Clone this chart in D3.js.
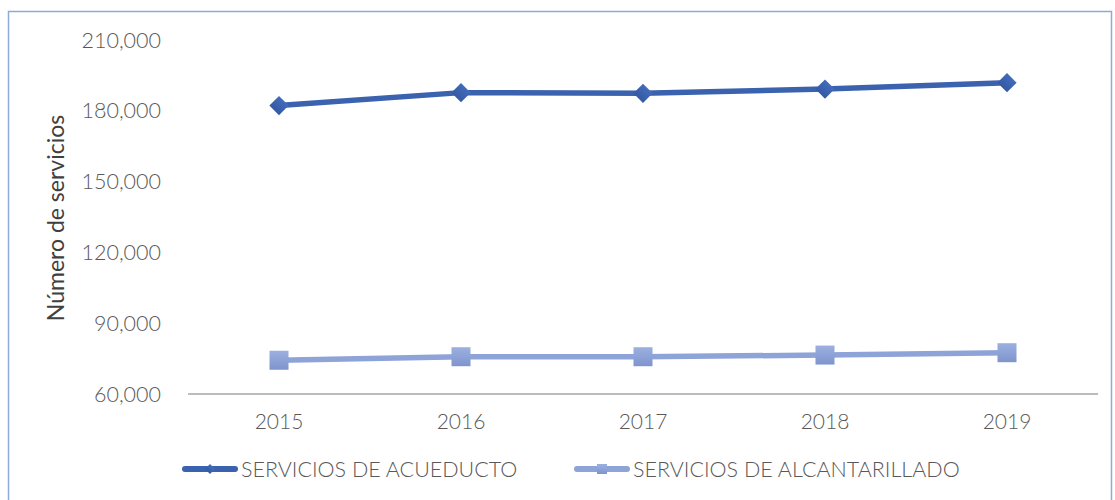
<html>
<head>
<meta charset="utf-8">
<script src="https://cdn.jsdelivr.net/npm/d3@7"></script>
<style>
  body { margin: 0; background: white; }
  text { font-family: Lato, "Open Sans", sans-serif; }
</style>
</head>
<body>
<div id="graph"></div>
<script>
// data
var years = ["2015", "2016", "2017", "2018", "2019"];
var acueducto = [182200, 187700, 187400, 189200, 191900];
var alcantarillado = [74300, 75800, 75800, 76500, 77500];
var yTicks = [60000, 90000, 120000, 150000, 180000, 210000];
var seriesNames = ["SERVICIOS DE ACUEDUCTO", "SERVICIOS DE ALCANTARILLADO"];
var yTitle = "Número de servicios";

var W = 1115, H = 500;
var svg = d3.select("#graph").append("svg")
    .attr("width", W)
    .attr("height", H);

// gradients for markers
var defs = svg.append("defs");
var g1 = defs.append("linearGradient").attr("id", "gDia").attr("x1", 0).attr("y1", 0).attr("x2", 0).attr("y2", 1);
g1.append("stop").attr("offset", "0%").attr("stop-color", "#416cbc");
g1.append("stop").attr("offset", "100%").attr("stop-color", "#3559a2");
var g2 = defs.append("linearGradient").attr("id", "gSq").attr("x1", 0).attr("y1", 0).attr("x2", 0).attr("y2", 1);
g2.append("stop").attr("offset", "0%").attr("stop-color", "#9cb0e0");
g2.append("stop").attr("offset", "100%").attr("stop-color", "#7e94cc");

// chart border
svg.append("rect")
    .attr("x", 8.5).attr("y", 11.5)
    .attr("width", 1103).attr("height", 520)
    .attr("fill", "none")
    .attr("stroke", "#8eaadb")
    .attr("stroke-width", 1.5);

var X = d3.scaleBand().domain(years).range([188, 1098]);
var Y = d3.scaleLinear().domain([60000, 210000]).range([394, 40]);
var cx = function(d, i) { return X(years[i]) + X.bandwidth() / 2; };

// y tick labels
svg.selectAll(".ytick")
  .data(yTicks)
  .enter().append("text")
    .attr("x", 161)
    .attr("y", function(d) { return Y(d); })
    .attr("dy", "0.35em")
    .attr("text-anchor", "end")
    .attr("font-size", 21.5)
    .attr("font-weight", 300)
    .attr("fill", "#595959")
    .text(d3.format(","));

// x axis line
svg.append("line")
    .attr("x1", X.range()[0]).attr("x2", X.range()[1])
    .attr("y1", Y(60000)).attr("y2", Y(60000))
    .attr("stroke", "#a6a6a6")
    .attr("stroke-width", 1.3);

// x labels
svg.selectAll(".xtick")
  .data(years)
  .enter().append("text")
    .attr("x", function(d) { return X(d) + X.bandwidth() / 2; })
    .attr("y", 422)
    .attr("dy", "0.35em")
    .attr("text-anchor", "middle")
    .attr("font-size", 21)
    .attr("font-weight", 300)
    .attr("fill", "#595959")
    .text(function(d) { return d; });

// y title
svg.append("text")
    .attr("transform", "translate(56,218) rotate(-90)")
    .attr("dy", "0.35em")
    .attr("text-anchor", "middle")
    .attr("font-size", 23)
    .attr("fill", "#404040")
    .text(yTitle);

var line = d3.line().x(cx).y(function(d) { return Y(d); });

// alcantarillado
svg.append("path")
    .attr("d", line(alcantarillado))
    .attr("fill", "none")
    .attr("stroke", "#8ea3d7")
    .attr("stroke-width", 5.5);
svg.selectAll(".sq")
  .data(alcantarillado)
  .enter().append("rect")
    .attr("x", function(d, i) { return cx(d, i) - 9.5; })
    .attr("y", function(d) { return Y(d) - 9.5; })
    .attr("width", 19).attr("height", 19)
    .attr("fill", "url(#gSq)");

// acueducto
svg.append("path")
    .attr("d", line(acueducto))
    .attr("fill", "none")
    .attr("stroke", "#3b62ae")
    .attr("stroke-width", 5.5);
svg.selectAll(".dia")
  .data(acueducto)
  .enter().append("path")
    .attr("d", d3.symbol().type(d3.symbolSquare).size(185))
    .attr("transform", function(d, i) { return "translate(" + cx(d, i) + "," + Y(d) + ") rotate(45)"; })
    .attr("fill", "url(#gDia)");

// legend
var legend = [
  { name: seriesNames[0], x: 182, color: "#3b62ae", marker: "diamond" },
  { name: seriesNames[1], x: 574, color: "#8ea3d7", marker: "square" }
];
var ly = 469;
legend.forEach(function(l) {
  svg.append("line")
    .attr("x1", l.x + 3).attr("x2", l.x + 53)
    .attr("y1", ly).attr("y2", ly)
    .attr("stroke", l.color)
    .attr("stroke-width", 6)
    .attr("stroke-linecap", "round");
  if (l.marker == "diamond") {
    svg.append("path")
      .attr("d", d3.symbol().type(d3.symbolSquare).size(50))
      .attr("transform", "translate(" + (l.x + 28) + "," + ly + ") rotate(45)")
      .attr("fill", "url(#gDia)");
  } else {
    svg.append("rect")
      .attr("x", l.x + 23).attr("y", ly - 5)
      .attr("width", 10).attr("height", 10)
      .attr("fill", "url(#gSq)");
  }
  svg.append("text")
    .attr("x", l.x + 59)
    .attr("y", ly)
    .attr("dy", "0.35em")
    .attr("font-size", 21.5)
    .attr("font-weight", 300)
    .attr("fill", "#595959")
    .text(l.name);
});
</script>
</body>
</html>
